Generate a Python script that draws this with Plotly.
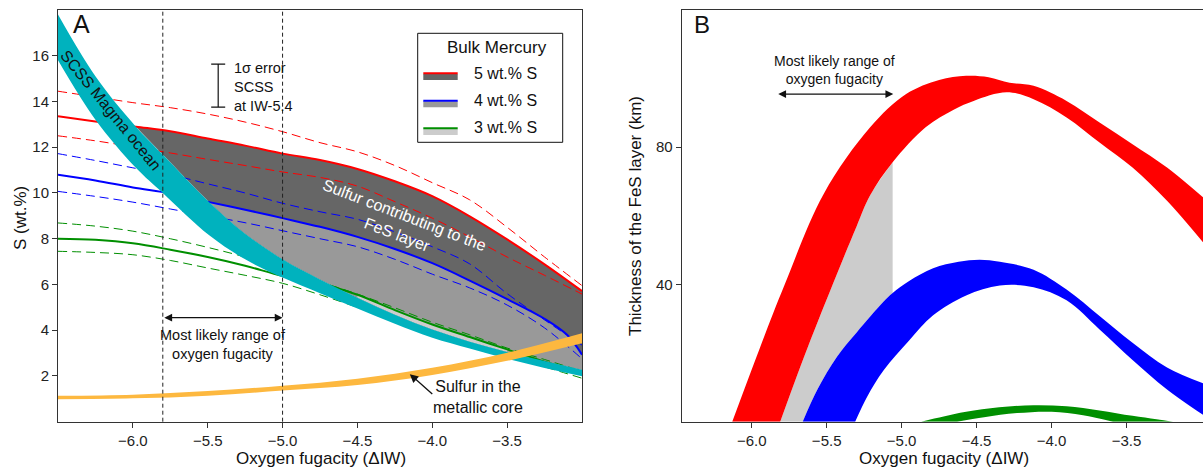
import plotly.graph_objects as go

W, H = 1203, 471
FONT = "Liberation Sans, Arial, Helvetica, sans-serif"

# ---------------- Panel A data ----------------
A_GRID = [-6.5, -6.25, -6.0, -5.75, -5.5, -5.25, -5.0, -4.75, -4.5, -4.25, -4.0, -3.75, -3.5, -3.25, -3.0]

RED_X = [-6.5, -6.25, -5.98, -5.75, -5.5, -5.25, -5.0, -4.75, -4.5, -4.25, -4.0, -3.75, -3.5, -3.25, -3.0]
RED_Y = [13.35, 13.13, 12.9, 12.7, 12.38, 12.07, 11.72, 11.44, 11.05, 10.51, 9.86, 8.98, 7.97, 6.88, 5.71]
RED_DASH_UP = [14.45, 14.2, 13.95, 13.73, 13.45, 13.1, 12.68, 12.2, 11.8, 11.2, 10.45, 9.7, 8.5, 7.2, 5.95]
RED_DASH_LO = [12.5, 12.28, 12.02, 11.75, 11.47, 11.2, 10.92, 10.68, 10.3, 9.62, 8.9, 8.08, 7.2, 6.4, 5.58]

BLUE_X = [-6.5, -6.25, -6.0, -5.75, -5.49, -5.25, -5.0, -4.75, -4.5, -4.25, -4.0, -3.75, -3.5, -3.25, -3.1, -3.0]
BLUE_Y = [10.8, 10.55, 10.24, 9.98, 9.6, 9.27, 8.9, 8.52, 8.08, 7.55, 6.93, 6.17, 5.36, 4.5, 3.8, 2.93]
BLUE_DASH_UP = [11.72, 11.42, 11.1, 10.8, 10.4, 10.0, 9.55, 9.18, 8.85, 8.3, 7.65, 6.9, 5.6, 4.45, 3.35]
BLUE_DASH_LO = [10.07, 9.85, 9.6, 9.3, 9.0, 8.7, 8.35, 8.0, 7.65, 7.1, 6.45, 5.85, 5.1, 4.1, 2.75]

GREEN_Y = [8.0, 7.95, 7.8, 7.52, 7.2, 6.82, 6.37, 6.05, 5.55, 4.88, 4.25, 3.7, 3.16, 2.62, 2.15]
GREEN_DASH_UP = [8.69, 8.55, 8.33, 8.0, 7.62, 7.2, 6.7, 6.12, 5.58, 4.98, 4.35, 3.8, 3.22, 2.72, 2.2]
GREEN_DASH_LO = [7.45, 7.4, 7.3, 7.05, 6.72, 6.4, 6.05, 5.55, 5.0, 4.42, 3.9, 3.4, 2.9, 2.4, 1.9]

CYAN_X = [-6.5, -6.25, -5.98, -5.8, -5.49, -5.25, -5.0, -4.75, -4.5, -4.25, -4.0, -3.75, -3.5, -3.25, -3.0]
CYAN_UP = [17.8, 15.1, 12.9, 11.68, 9.6, 8.22, 7.1, 6.22, 5.42, 4.68, 4.03, 3.5, 3.05, 2.65, 2.27]
CYAN_LO = [15.8, 13.2, 11.1, 10.0, 8.15, 7.1, 6.3, 5.62, 4.95, 4.28, 3.67, 3.2, 2.75, 2.35, 1.99]

ORANGE_X = [-6.5, -6.0, -5.5, -5.0, -4.5, -4.0, -3.5, -3.0]
ORANGE_UP = [1.13, 1.18, 1.34, 1.57, 1.88, 2.36, 3.02, 3.87]
ORANGE_LO = [0.98, 1.02, 1.14, 1.36, 1.6, 2.04, 2.66, 3.43]

FO2_RANGE = [-5.8, -5.0]
ERR_X, ERR_Y, ERR_HALF = -5.43, 14.69, 0.94
A_XTICKS = [-6.0, -5.5, -5.0, -4.5, -4.0, -3.5]
A_YTICKS = [2, 4, 6, 8, 10, 12, 14, 16]
LEGEND_LABELS = ["5 wt.% S", "4 wt.% S", "3 wt.% S"]

# ---------------- Panel B data ----------------
RED_UP_BX = [-6.13, -5.95, -5.78, -5.52, -5.21, -4.97, -4.75, -4.57, -4.42, -4.28, -4.12, -3.9, -3.68, -3.46, -3.23, -2.99]
RED_UP_BY = [0, 21, 40, 66.4, 85.8, 95.5, 99.6, 100.8, 100.4, 98.8, 97.9, 93.5, 87.2, 80.9, 74.1, 65.4]
RED_LO_BX = [-5.81, -5.65, -5.46, -5.3, -5.21, -5.06, -4.84, -4.65, -4.52, -4.3, -4.12, -3.9, -3.68, -3.46, -3.23, -2.99]
RED_LO_BY = [0, 19, 40, 57, 66, 75.6, 85.8, 91, 93.5, 96.0, 94.0, 88.7, 81.4, 74.1, 64.4, 52.3]

BLUE_UP_BX = [-5.66, -5.56, -5.43, -5.3, -5.12, -5.06, -4.95, -4.79, -4.62, -4.48, -4.345, -4.12, -3.9, -3.68, -3.46, -3.23, -2.99]
BLUE_UP_BY = [0, 9.5, 19, 26, 35, 37.5, 41.0, 44.7, 46.6, 47.2, 46.6, 44.3, 38.5, 30.8, 23.0, 15.8, 11.2]
BLUE_LO_BX = [-5.31, -5.23, -5.12, -4.95, -4.79, -4.57, -4.345, -4.12, -3.9, -3.68, -3.46, -3.23, -2.99]
BLUE_LO_BY = [0, 7.3, 15.0, 23.7, 31.0, 36.8, 39.7, 39.2, 35.4, 26.9, 18.0, 9.4, 2.0]

GREEN_UP_BX = [-4.87, -4.72, -4.57, -4.35, -4.12, -3.9, -3.68, -3.46, -3.3, -3.19]
GREEN_UP_BY = [0, 1.5, 2.9, 4.2, 4.8, 4.5, 3.3, 1.7, 0.7, 0]
GREEN_LO_BX = [-4.63, -4.45, -4.23, -4.0, -3.79, -3.59]
GREEN_LO_BY = [0, 1.3, 2.5, 2.9, 1.9, 0]

GRAY_B_XMAX = -5.06
B_ARROW = [-5.833, -5.056]
B_XTICKS = [-6.0, -5.5, -5.0, -4.5, -4.0, -3.5]
B_YTICKS = [40, 80]

C_RED, C_BLUE, C_GREEN = "#FF0000", "#0000FF", "#008F00"
C_CYAN, C_ORANGE = "#00B2BE", "#FDB83F"
C_DARK, C_MID, C_LIGHT = "#666666", "#999999", "#CCCCCC"
SMOOTH = 1.0


def px(x):
    return x / W


def py(y):
    return 1 - y / H


def sel(xs, ys, lo, hi):
    pts = [(x, y) for x, y in zip(xs, ys) if lo - 1e-9 <= x <= hi + 1e-9]
    return [p[0] for p in pts], [p[1] for p in pts]


fig = go.Figure()


def band(xl, yl, xh, yh, color, xa="x", ya="y"):
    """Fill between two independently smoothed edges (lower edge trace, then upper edge with tonexty)."""
    fig.add_trace(go.Scatter(x=xl, y=yl, mode="lines",
                             line=dict(width=0, color=color, shape="spline", smoothing=SMOOTH),
                             hoverinfo="skip", showlegend=False, xaxis=xa, yaxis=ya))
    fig.add_trace(go.Scatter(x=xh, y=yh, mode="lines", fill="tonexty", fillcolor=color,
                             line=dict(width=0, color=color, shape="spline", smoothing=SMOOTH),
                             hoverinfo="skip", showlegend=False, xaxis=xa, yaxis=ya))


def line(xs, ys, color, width=2, dash=None):
    fig.add_trace(go.Scatter(x=xs, y=ys, mode="lines",
                             line=dict(color=color, width=width, dash=dash, shape="spline", smoothing=SMOOTH),
                             hoverinfo="skip", showlegend=False, xaxis="x", yaxis="y"))


# gray fills (A)
rx, ry = sel(RED_X, RED_Y, -5.98, -3.0)
cx, cy = sel(CYAN_X, CYAN_UP, -5.98, -3.0)
band(cx, cy, rx, ry, C_DARK)
bx, by = sel(BLUE_X, BLUE_Y, -5.49, -3.0)
cx, cy = sel(CYAN_X, CYAN_UP, -5.49, -3.0)
band(cx, cy, bx, by, C_MID)
gx, gy = sel(A_GRID, GREEN_Y, -4.5, -3.5)
cx, cy = sel(CYAN_X, CYAN_UP, -4.5, -3.5)
band(cx, cy, gx, gy, C_LIGHT)

# dashed lines
DASH = "9px,5px"
line(A_GRID, RED_DASH_UP, C_RED, 1, DASH)
line(A_GRID, RED_DASH_LO, C_RED, 1, DASH)
line(A_GRID, BLUE_DASH_UP, C_BLUE, 1, DASH)
line(A_GRID, BLUE_DASH_LO, C_BLUE, 1, DASH)
line(A_GRID, GREEN_DASH_UP, C_GREEN, 1, DASH)
line(A_GRID, GREEN_DASH_LO, C_GREEN, 1, DASH)
# solid lines
line(RED_X, RED_Y, C_RED, 2)
line(BLUE_X, BLUE_Y, C_BLUE, 2)
line(A_GRID, GREEN_Y, C_GREEN, 2)
# cyan SCSS band and orange core band
band(CYAN_X, CYAN_LO, CYAN_X, CYAN_UP, C_CYAN)
band(ORANGE_X, ORANGE_LO, ORANGE_X, ORANGE_UP, C_ORANGE)

# error bar
fig.add_trace(go.Scatter(x=[ERR_X], y=[ERR_Y], mode="markers", marker=dict(size=1, color="rgba(0,0,0,0)"),
                         error_y=dict(type="constant", value=ERR_HALF, color="#111", thickness=1.2, width=7),
                         hoverinfo="skip", showlegend=False, xaxis="x", yaxis="y"))

# ---------------- Panel B ----------------
gx1, gy1 = sel(RED_LO_BX, RED_LO_BY, -9, GRAY_B_XMAX)
gx2, gy2 = sel(BLUE_UP_BX, BLUE_UP_BY, -9, GRAY_B_XMAX)
band(gx2, gy2, gx1, gy1, C_LIGHT, "x2", "y2")
band(RED_LO_BX, RED_LO_BY, RED_UP_BX, RED_UP_BY, C_RED, "x2", "y2")
band(BLUE_LO_BX, BLUE_LO_BY, BLUE_UP_BX, BLUE_UP_BY, C_BLUE, "x2", "y2")
band(GREEN_LO_BX, GREEN_LO_BY, GREEN_UP_BX, GREEN_UP_BY, C_GREEN, "x2", "y2")

# ---------------- Layout ----------------
axis_common = dict(showline=True, linecolor="#333", linewidth=1, ticks="outside", ticklen=5,
                   tickcolor="#333", showgrid=False, zeroline=False,
                   tickfont=dict(size=15, color="#222", family=FONT))
ydom = [py(421.7), py(10)]

shapes = []
for xv in FO2_RANGE:
    shapes.append(dict(type="line", xref="x", yref="y domain", x0=xv, x1=xv, y0=0, y1=1,
                       line=dict(color="#222", width=1, dash="4px,3px"), layer="above"))

# legend box (panel A)
shapes.append(dict(type="rect", xref="paper", yref="paper", x0=px(417.7), x1=px(562.7),
                   y0=py(142.3), y1=py(33.3), line=dict(color="#111", width=1),
                   fillcolor="white", layer="above"))
sw = [(C_RED, C_DARK, 73.3), (C_BLUE, C_MID, 100.7), (C_GREEN, C_LIGHT, 128.3)]
for lc, fc, yy in sw:
    shapes.append(dict(type="rect", xref="paper", yref="paper", x0=px(423.3), x1=px(457.7),
                       y0=py(yy + 6.6), y1=py(yy + 0.6), line=dict(width=0), fillcolor=fc, layer="above"))
    shapes.append(dict(type="line", xref="paper", yref="paper", x0=px(423.3), x1=px(457.7),
                       y0=py(yy), y1=py(yy), line=dict(color=lc, width=2), layer="above"))

ann = []


def text(x, y, s, size=15, color="#111", xref="paper", yref="paper", angle=0, xanchor="center", align="center"):
    ann.append(dict(x=x, y=y, xref=xref, yref=yref, text=s, showarrow=False, textangle=angle,
                    xanchor=xanchor, yanchor="middle", align=align,
                    font=dict(size=size, color=color, family=FONT)))


text(px(81.7), py(24), "A", 25)
text(px(701.7), py(25), "B", 24)
text(px(321), py(458), "Oxygen fugacity (ΔIW)", 17)
text(px(944), py(458), "Oxygen fugacity (ΔIW)", 17)
text(px(20), py(218), "S (wt.%)", 17, angle=-90)
text(px(635), py(216), "Thickness of the FeS layer (km)", 17, angle=-90)
text(px(497), py(47.7), "Bulk Mercury", 17)
for lab, yy in zip(LEGEND_LABELS, [73.3, 100.3, 127.7]):
    text(px(471.7), py(yy), lab, 16, xanchor="left")
text(px(232), py(87.5), "1σ error<br>SCSS<br>at IW-5.4", 14.5, xanchor="left", align="left")
text(px(110), py(110), "SCSS Magma ocean", 16, angle=51)
text(-4.21, 8.6, "Sulfur contributing to the<br>FeS layer", 16, color="white", xref="x", yref="y", angle=21)
text(px(222.5), py(344.5), "Most likely range of<br>oxygen fugacity", 14.5)
text(px(478), py(396.7), "Sulfur in the<br>metallic core", 16)
text(px(834.7), py(70.5), "Most likely range of<br>oxygen fugacity", 14)

# arrows
ann.append(dict(x=FO2_RANGE[1], y=4.55, ax=FO2_RANGE[0], ay=4.55, xref="x", yref="y", axref="x", ayref="y",
                text="", showarrow=True, arrowhead=2, startarrowhead=2, arrowside="end+start",
                arrowsize=1.3, startarrowsize=1.3, arrowwidth=1.2, arrowcolor="#111"))
ann.append(dict(x=B_ARROW[1], y=95.5, ax=B_ARROW[0], ay=95.5, xref="x2", yref="y2", axref="x2", ayref="y2",
                text="", showarrow=True, arrowhead=2, startarrowhead=2, arrowside="end+start",
                arrowsize=1.3, startarrowsize=1.3, arrowwidth=1.2, arrowcolor="#111"))
ann.append(dict(x=-4.15, y=2.08, ax=-3.99, ay=1.15, xref="x", yref="y", axref="x", ayref="y",
                text="", showarrow=True, arrowhead=2, arrowsize=1.3, arrowwidth=1.3, arrowcolor="#111"))

fig.update_layout(
    width=W, height=H, autosize=False,
    margin=dict(l=0, r=0, t=0, b=0),
    paper_bgcolor="white", plot_bgcolor="white",
    font=dict(family=FONT, color="#111"),
    showlegend=False,
    xaxis=dict(domain=[px(58), px(582)], range=[-6.5, -3.0], tickvals=A_XTICKS, tickformat=".1f",
               mirror=True, anchor="y", **axis_common),
    yaxis=dict(domain=ydom, range=[0, 18], tickvals=A_YTICKS, mirror=True, anchor="x", **axis_common),
    xaxis2=dict(domain=[px(681.7), 1.0], range=[-6.467, -2.99], tickvals=B_XTICKS, tickformat=".1f",
                mirror=True, anchor="y2", **axis_common),
    yaxis2=dict(domain=ydom, range=[0, 120], tickvals=B_YTICKS, mirror=False, anchor="x2", **axis_common),
    shapes=shapes,
    annotations=ann,
)

fig.write_html("out.html")
